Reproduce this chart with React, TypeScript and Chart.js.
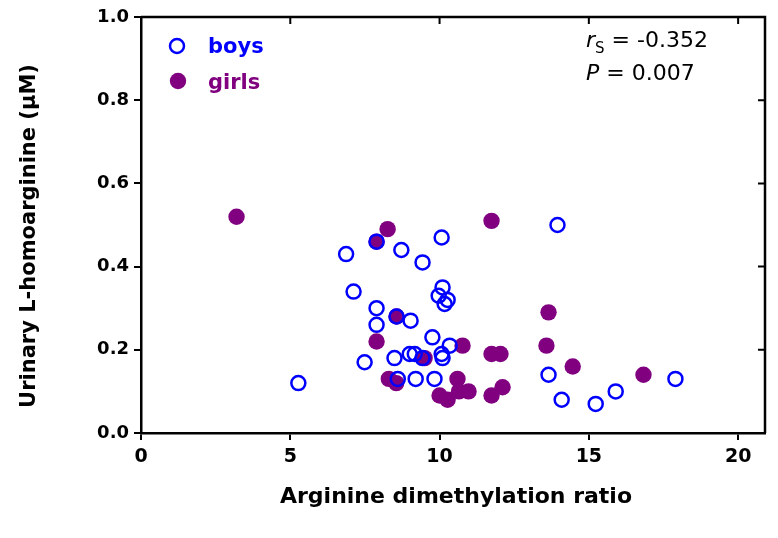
import React, { useEffect, useRef } from "react";
import { Chart, registerables } from "chart.js";
Chart.register(...registerables);

const boysX = [5.27, 6.87, 7.89, 8.72, 9.43, 10.07, 7.12, 10.1, 9.97, 10.27, 10.17, 7.89, 7.89, 8.56, 9.03, 9.76, 10.34, 10.07, 10.1, 9.0, 9.17, 9.43, 8.49, 7.49, 8.6, 9.2, 9.83, 13.95, 13.65, 14.09, 15.23, 15.9, 17.9];
const boysY = [0.12, 0.43, 0.46, 0.44, 0.41, 0.47, 0.34, 0.35, 0.33, 0.32, 0.31, 0.30, 0.26, 0.28, 0.27, 0.23, 0.21, 0.19, 0.18, 0.19, 0.19, 0.18, 0.18, 0.17, 0.13, 0.13, 0.13, 0.50, 0.14, 0.08, 0.07, 0.10, 0.13];
const girlsX = [3.2, 8.26, 7.89, 8.56, 7.89, 10.77, 9.5, 8.3, 8.55, 10.6, 10.65, 10.97, 10.0, 10.27, 11.74, 11.74, 12.04, 11.74, 12.11, 13.65, 13.58, 14.46, 16.83];
const girlsY = [0.52, 0.49, 0.46, 0.28, 0.22, 0.21, 0.18, 0.13, 0.12, 0.13, 0.10, 0.10, 0.09, 0.08, 0.51, 0.19, 0.19, 0.09, 0.11, 0.29, 0.21, 0.16, 0.14];
const xTicks = [0, 5, 10, 15, 20];
const yTicks = [0, 0.2, 0.4, 0.6, 0.8, 1.0];
const xTitle = "Arginine dimethylation ratio";
const yTitle = "Urinary L-homoarginine (µM)";

const BLUE = "#0000ff";
const PURPLE = "#800080";
const FONT = "'DejaVu Sans', Verdana, sans-serif";

const framePlugin = {
  id: "frame",
  afterDraw(chart: any) {
    const { ctx, chartArea } = chart;
    const xs = chart.scales.x;
    const ys = chart.scales.y;
    ctx.save();
    ctx.strokeStyle = "#000";
    ctx.lineWidth = 2.5;
    ctx.beginPath();
    ctx.moveTo(chartArea.left, chartArea.top);
    ctx.lineTo(chartArea.right, chartArea.top);
    ctx.lineTo(chartArea.right, chartArea.bottom);
    ctx.stroke();
    ctx.lineWidth = 2;
    ctx.beginPath();
    for (const t of xTicks) {
      const px = xs.getPixelForValue(t);
      ctx.moveTo(px, chartArea.top);
      ctx.lineTo(px, chartArea.top + 7);
    }
    for (const t of yTicks) {
      const py = ys.getPixelForValue(t);
      ctx.moveTo(chartArea.right, py);
      ctx.lineTo(chartArea.right - 7, py);
    }
    ctx.stroke();

    // axis titles
    ctx.fillStyle = "#000";
    ctx.textAlign = "center";
    ctx.textBaseline = "middle";
    ctx.font = `bold 22px ${FONT}`;
    ctx.fillText(xTitle, 456, 497);
    ctx.save();
    ctx.translate(30, 236);
    ctx.rotate(-Math.PI / 2);
    ctx.font = `bold 21px ${FONT}`;
    ctx.fillText(yTitle, 0, 0);
    ctx.restore();

    // legend
    ctx.lineWidth = 2.5;
    ctx.strokeStyle = BLUE;
    ctx.beginPath();
    ctx.arc(177, 46, 7, 0, Math.PI * 2);
    ctx.stroke();
    ctx.fillStyle = PURPLE;
    ctx.beginPath();
    ctx.arc(178, 81, 8.2, 0, Math.PI * 2);
    ctx.fill();
    ctx.font = `bold 21px ${FONT}`;
    ctx.textBaseline = "alphabetic";
    ctx.textAlign = "left";
    ctx.fillStyle = BLUE;
    ctx.fillText("boys", 208, 53);
    ctx.fillStyle = PURPLE;
    ctx.fillText("girls", 208, 89);

    // annotation
    ctx.fillStyle = "#000";
    let x = 586;
    ctx.font = `italic 22px ${FONT}`;
    ctx.fillText("r", x, 47);
    x += ctx.measureText("r").width;
    ctx.font = `15px ${FONT}`;
    ctx.fillText("S", x, 53);
    x += ctx.measureText("S").width;
    ctx.font = `22px ${FONT}`;
    ctx.fillText(" = -0.352", x, 47);
    x = 586;
    ctx.font = `italic 22px ${FONT}`;
    ctx.fillText("P", x, 80);
    x += ctx.measureText("P").width;
    ctx.font = `22px ${FONT}`;
    ctx.fillText(" = 0.007", x, 80);
    ctx.restore();
  },
};

export default function App() {
  const ref = useRef<HTMLCanvasElement>(null);
  useEffect(() => {
    const boys = boysX.map((x, i) => ({ x, y: boysY[i] }));
    const girls = girlsX.map((x, i) => ({ x, y: girlsY[i] }));
    const chart = new Chart(ref.current!, {
      type: "scatter",
      data: {
        datasets: [
          {
            label: "boys",
            data: boys,
            pointRadius: 7,
            pointBorderWidth: 2.5,
            pointBorderColor: BLUE,
            pointBackgroundColor: "rgba(0,0,0,0)",
          },
          {
            label: "girls",
            data: girls,
            pointRadius: 8.2,
            pointBorderWidth: 0,
            pointBorderColor: PURPLE,
            pointBackgroundColor: PURPLE,
          },
        ],
      },
      options: {
        responsive: false,
        animation: false,
        layout: { padding: { top: 17, right: 13, left: 0, bottom: 0 } },
        plugins: { legend: { display: false }, tooltip: { enabled: false } },
        scales: {
          x: {
            type: "linear",
            min: 0,
            max: 20.9,
            afterBuildTicks: (s: any) => {
              s.ticks = xTicks.map((v) => ({ value: v }));
            },
            afterFit: (s: any) => {
              s.height = 105;
            },
            border: { color: "#000", width: 2.5 },
            grid: { drawOnChartArea: false, drawTicks: true, tickLength: 7, color: "#000", lineWidth: 2 },
            ticks: { color: "#000", font: { family: FONT, size: 19, weight: "bold" }, padding: 6, maxRotation: 0 },
          },
          y: {
            type: "linear",
            min: 0,
            max: 1,
            afterBuildTicks: (s: any) => {
              s.ticks = yTicks.map((v) => ({ value: v }));
            },
            afterFit: (s: any) => {
              s.width = 141;
            },
            border: { color: "#000", width: 2.5 },
            grid: { drawOnChartArea: false, drawTicks: true, tickLength: 7, color: "#000", lineWidth: 2 },
            ticks: {
              color: "#000",
              font: { family: FONT, size: 18, weight: "bold" },
              padding: 5,
              callback: (v: any) => Number(v).toFixed(1),
            },
          },
        },
      },
      plugins: [framePlugin],
    });
    return () => chart.destroy();
  }, []);
  return (
    <div style={{ position: "fixed", left: 0, top: 0, width: 778, height: 538, background: "#fff" }}>
      <canvas ref={ref} width={778} height={538} />
    </div>
  );
}
